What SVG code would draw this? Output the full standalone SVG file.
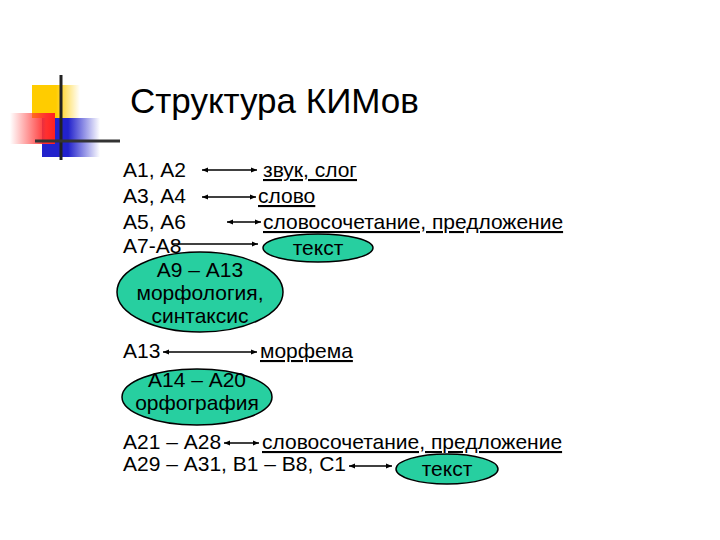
<svg xmlns="http://www.w3.org/2000/svg" width="720" height="540" viewBox="0 0 720 540">
<defs>
<linearGradient id="gy" x1="0" y1="0" x2="1" y2="0"><stop offset="0" stop-color="#FFCC00"/><stop offset="0.5" stop-color="#FFCC00"/><stop offset="1" stop-color="#FFCC00" stop-opacity="0"/></linearGradient>
<linearGradient id="gr" x1="1" y1="0" x2="0" y2="0"><stop offset="0" stop-color="#FF2020"/><stop offset="0.2" stop-color="#FF3030"/><stop offset="1" stop-color="#FF3030" stop-opacity="0"/></linearGradient>
<linearGradient id="gb" x1="0" y1="0" x2="1" y2="0"><stop offset="0" stop-color="#2222CC"/><stop offset="0.45" stop-color="#2222CC"/><stop offset="1" stop-color="#2222CC" stop-opacity="0"/></linearGradient>
<marker id="ah" viewBox="0 0 10 10" refX="10" refY="5" markerWidth="6" markerHeight="6" orient="auto-start-reverse" markerUnits="userSpaceOnUse"><path d="M0,1 L10,5 L0,9 Z" fill="#000"/></marker>
</defs>
<style>
.t{font-family:"Liberation Sans",Arial,sans-serif;font-size:21px;fill:#000}
.u{text-decoration:underline}
.c{text-anchor:middle}
.e{fill:#27CFA0;stroke:#000;stroke-width:1.5}
.a{stroke:#000;stroke-width:1.3;fill:none}
</style>
<rect width="720" height="540" fill="#fff"/>
<g id="logo">
<rect x="32" y="85" width="48" height="33" fill="url(#gy)"/>
<rect x="42" y="118" width="58" height="39" fill="url(#gb)"/>
<rect x="10" y="113" width="45" height="31" fill="url(#gr)"/>
<line x1="61" y1="75" x2="61" y2="160" stroke="#222" stroke-width="3"/>
<line x1="35" y1="141" x2="120" y2="141" stroke="#333" stroke-width="3"/>
</g>
<g id="title"><text x="130" y="113" style="font-family:'Liberation Sans',Arial,sans-serif;font-size:35px">Структура КИМов</text></g>
<g id="connectors">
<line class="a" x1="202" y1="170" x2="257" y2="170" marker-start="url(#ah)" marker-end="url(#ah)"/>
<line class="a" x1="202" y1="197" x2="256" y2="197" marker-start="url(#ah)" marker-end="url(#ah)"/>
<line class="a" x1="227" y1="222" x2="261" y2="222" marker-start="url(#ah)" marker-end="url(#ah)"/>
<line class="a" x1="172" y1="244" x2="258" y2="244" marker-end="url(#ah)"/>
<line class="a" x1="163" y1="352" x2="257" y2="352" marker-start="url(#ah)" marker-end="url(#ah)"/>
<line class="a" x1="224" y1="443" x2="259" y2="443" marker-start="url(#ah)" marker-end="url(#ah)"/>
<line class="a" x1="349" y1="466" x2="392" y2="466" marker-start="url(#ah)" marker-end="url(#ah)"/>
</g>
<g id="row1"><text class="t" x="123" y="177">А1, А2</text><text class="t u" x="263" y="177">звук, слог</text></g>
<g id="row2"><text class="t" x="123" y="203">А3, А4</text><text class="t u" x="258" y="203">слово</text></g>
<g id="row3"><text class="t" x="123" y="229">А5, А6</text><text class="t u" x="263" y="229">словосочетание, предложение</text></g>
<g id="row4"><text class="t" x="123" y="253">А7-А8</text></g>
<g id="n-tekst1"><ellipse class="e" cx="318" cy="248" rx="55" ry="14"/><text class="t c" x="318" y="255">текст</text></g>
<g id="n-morph"><ellipse class="e" cx="200" cy="292" rx="83" ry="40"/><text class="t c" x="200" y="277">А9 – А13</text><text class="t c" x="200" y="300">морфология,</text><text class="t c" x="200" y="323">синтаксис</text></g>
<g id="row5"><text class="t" x="123" y="358">А13</text><text class="t u" x="260" y="358">морфема</text></g>
<g id="n-orph"><ellipse class="e" cx="197" cy="397" rx="75" ry="28"/><text class="t c" x="197" y="387">А14 – А20</text><text class="t c" x="197" y="410">орфография</text></g>
<g id="row6"><text class="t" x="123" y="449">А21 – А28</text><text class="t u" x="262" y="449">словосочетание, предложение</text></g>
<g id="row7"><text class="t" x="123" y="471">А29 – А31, В1 – В8, С1</text></g>
<g id="n-tekst2"><ellipse class="e" cx="447" cy="469" rx="51" ry="15"/><text class="t c" x="447" y="476">текст</text></g>
</svg>
